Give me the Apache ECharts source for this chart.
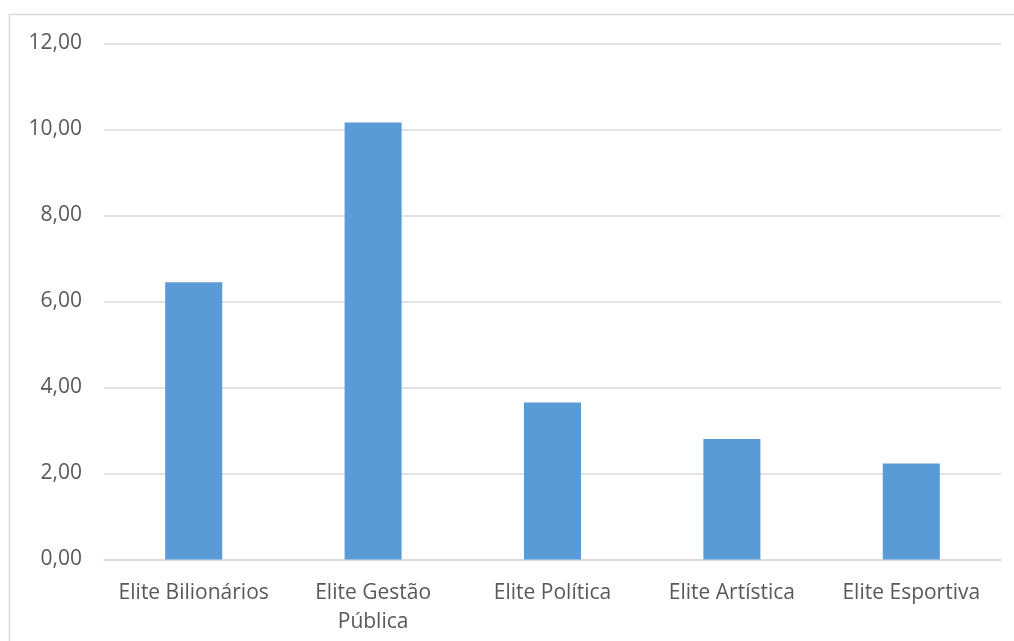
<!DOCTYPE html>
<html>
<head>
<meta charset="utf-8">
<script src="https://cdn.jsdelivr.net/npm/echarts@6/dist/echarts.min.js"></script>
<style>
  html, body { margin: 0; padding: 0; background: #fff; }
  #chart { width: 1014px; height: 641px; }
</style>
</head>
<body>
<div id="chart"></div>
<script>
// Category labels (long one wrapped onto two lines)
const categories = [
  'Elite Bilionários',
  'Elite Gestão\nPública',
  'Elite Política',
  'Elite Artística',
  'Elite Esportiva'
];
// Bar values
const values = [6.45, 10.16, 3.65, 2.80, 2.23];
// Value axis range
const axisMin = 0;
const axisMax = 12;
const axisStep = 2;

const textColor = '#595959';
const lineColor = '#d9d9d9';
const fontFamily = '"Open Sans", "Noto Sans", sans-serif';

const chart = echarts.init(document.getElementById('chart'), null, { renderer: 'canvas' });

chart.setOption({
  animation: false,
  backgroundColor: '#ffffff',
  graphic: [{
    type: 'rect',
    shape: { x: 9.5, y: 14.5, width: 1100, height: 700 },
    style: { fill: 'none', stroke: lineColor, lineWidth: 1.5 },
    silent: true
  }],
  grid: {
    left: 104,
    right: 13,
    top: 43.5,
    bottom: 81.5,
    containLabel: false,
    outerBoundsMode: 'none'
  },
  xAxis: {
    type: 'category',
    data: categories,
    axisTick: { show: false },
    axisLine: { show: true, lineStyle: { color: lineColor, width: 1.5 } },
    axisLabel: {
      color: textColor,
      fontFamily: fontFamily,
      fontSize: 21,
      lineHeight: 29,
      margin: 19,
      interval: 0
    }
  },
  yAxis: {
    type: 'value',
    min: axisMin,
    max: axisMax,
    interval: axisStep,
    axisLine: { show: false },
    axisTick: { show: false },
    splitLine: { lineStyle: { color: lineColor, width: 1.5 } },
    axisLabel: {
      color: textColor,
      fontFamily: fontFamily,
      fontSize: 21,
      margin: 22,
      formatter: v => v.toFixed(2).replace('.', ',')
    }
  },
  series: [{
    type: 'bar',
    data: values,
    barWidth: '31.8%',
    itemStyle: { color: '#5b9bd5' }
  }]
});
</script>
</body>
</html>
